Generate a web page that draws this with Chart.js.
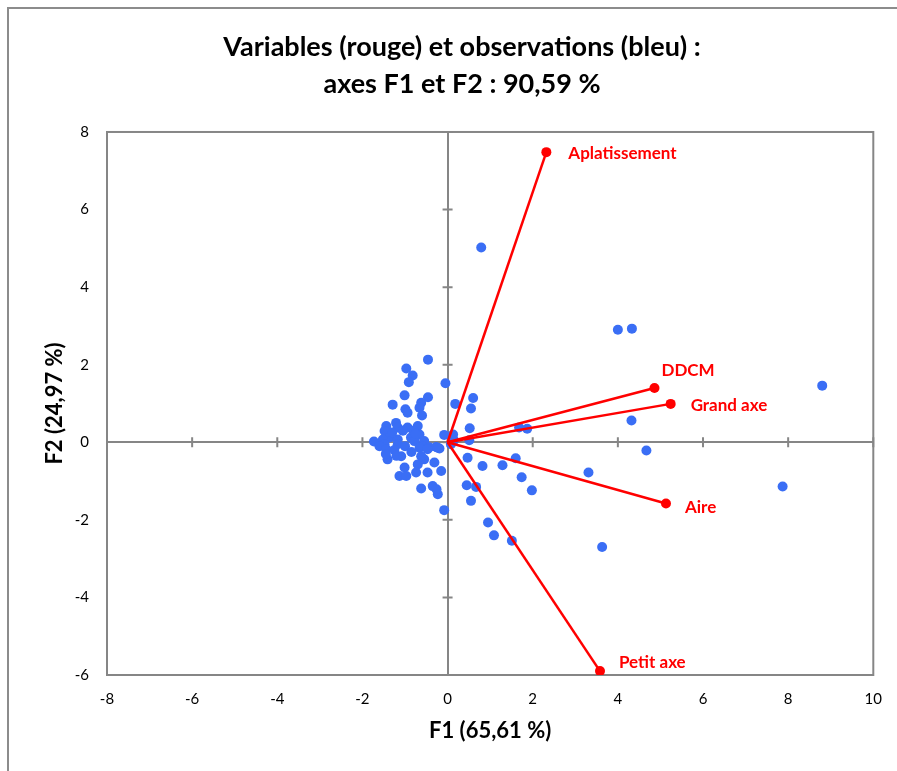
<!DOCTYPE html>
<html>
<head>
<meta charset="utf-8">
<script src="https://cdn.jsdelivr.net/npm/chart.js@4/dist/chart.umd.min.js"></script>
<style>
  html, body { margin: 0; padding: 0; background: #fff; }
</style>
</head>
<body>
<canvas id="graphique" width="897" height="771"></canvas>
<script>
// Observations (bleu) : coordonnées sur F1 et F2
const obsF1 = [-0.46, -0.97, -0.82, -0.91, -0.05, -1.01, -0.46, -1.29, -0.62, -0.99,
  -0.94, -0.66, -0.60, 0.18, -1.21, -1.44, -1.48, -1.17, -0.94, -0.70,
  -0.66, -0.86, -1.37, -1.17, -1.52, -1.73, -1.48, -1.17, -0.55, -0.59,
  -0.27, -0.08, -0.43, -1.60, -1.44, -1.41, -0.78, -0.66, -0.47, -0.23,
  -1.09, -1.01, -1.13, -0.97, -0.70, -0.74, -0.47, -0.31, -0.15, -0.55,
  -0.62, -0.62, -0.35, -0.23, -0.08, -0.26, -0.19, -1.30, -1.05, -0.80,
  -1.25, -1.00, -0.75, -1.45, -1.20, -0.85, 0.13, 0.08, 0.15, 0.60,
  0.55, 0.52, 0.51, 1.68, 1.87, 0.47, 0.82, 1.29, 1.60, 0.45,
  0.67, 0.55, 1.74, 1.98, 0.95, 1.09, 1.51, 0.79, 4.00, 4.33,
  8.80, 7.87, 4.32, 4.67, 3.31, 3.63];
const obsF2 = [2.13, 1.90, 1.72, 1.55, 1.52, 1.21, 1.16, 0.97, 1.02, 0.85,
  0.76, 0.89, 0.69, 0.99, 0.50, 0.42, 0.29, 0.38, 0.38, 0.42,
  0.20, 0.12, 0.12, 0.07, 0.07, 0.02, -0.05, -0.05, 0.03, -0.10,
  -0.12, 0.19, -0.13, -0.10, -0.18, -0.44, 0.03, -0.14, -0.18, -0.14,
  -0.36, -0.65, -0.87, -0.87, -0.57, -0.78, -0.78, -0.52, -0.74, -0.44,
  -0.36, -1.19, -1.13, -1.34, -1.75, -1.21, -0.16, 0.25, 0.30, 0.30,
  -0.20, -0.10, 0.22, -0.30, -0.35, -0.25, 0.20, -0.05, 0.05, 1.14,
  0.87, 0.36, 0.05, 0.38, 0.35, -0.40, -0.61, -0.59, -0.41, -1.11,
  -1.15, -1.51, -0.90, -1.24, -2.07, -2.40, -2.54, 5.02, 2.90, 2.93,
  1.46, -1.14, 0.56, -0.21, -0.78, -2.70];

// Variables (rouge)
const varNoms = ["Aplatissement", "DDCM", "Grand axe", "Aire", "Petit axe"];
const varF1 = [2.32, 4.86, 5.24, 5.13, 3.58];
const varF2 = [7.48, 1.40, 0.99, -1.58, -5.90];

// Graduations
const ticksF1 = [-8, -6, -4, -2, 0, 2, 4, 6, 8, 10];
const ticksF2 = [-6, -4, -2, 0, 2, 4, 6, 8];

const police = "Lato, 'Liberation Sans', sans-serif";
const gris = "#868686";
const rouge = "#ff0000";
const bleu = "#3a6ef5";

// Décalage des étiquettes des variables (px)
const decalages = [[22, 1], [7, -17], [20, 2], [19, 4], [19, -9]];

// Cadre extérieur, cadre du graphique, croix des graduations et étiquettes
const decor = {
  id: "decor",
  beforeDraw(chart) {
    const ctx = chart.ctx;
    ctx.save();
    ctx.fillStyle = "#fff";
    ctx.fillRect(0, 0, chart.width, chart.height);
    ctx.strokeStyle = "#8c8c8c";
    ctx.lineWidth = 2;
    ctx.beginPath();
    ctx.moveTo(8, chart.height);
    ctx.lineTo(8, 8);
    ctx.lineTo(chart.width, 8);
    ctx.stroke();
    ctx.restore();
  },
  beforeDatasetsDraw(chart) {
    const { ctx, chartArea: a, scales: { x, y } } = chart;
    const x0 = x.getPixelForValue(0);
    const y0 = y.getPixelForValue(0);
    ctx.save();
    ctx.strokeStyle = gris;
    ctx.lineWidth = 2;
    ctx.strokeRect(a.left, a.top, a.right - a.left, a.bottom - a.top);
    ctx.beginPath();
    ticksF1.forEach((v) => {
      const px = x.getPixelForValue(v);
      ctx.moveTo(px, y0 - 5);
      ctx.lineTo(px, y0 + 5);
    });
    ticksF2.forEach((v) => {
      const py = y.getPixelForValue(v);
      ctx.moveTo(x0 - 5, py);
      ctx.lineTo(x0 + 5, py);
    });
    ctx.stroke();
    ctx.restore();
  },
  afterDatasetsDraw(chart) {
    const { ctx, scales: { x, y } } = chart;
    ctx.save();
    ctx.fillStyle = rouge;
    ctx.font = "bold 17px " + police;
    ctx.textAlign = "left";
    ctx.textBaseline = "middle";
    varNoms.forEach((nom, i) => {
      const px = x.getPixelForValue(varF1[i]) + decalages[i][0];
      const py = y.getPixelForValue(varF2[i]) + decalages[i][1];
      ctx.fillText(nom, px, py);
    });
    ctx.restore();
  },
};

const observations = obsF1.map((v, i) => ({ x: v, y: obsF2[i] }));

const jeux = varNoms.map((nom, i) => ({
  label: nom,
  data: [{ x: 0, y: 0 }, { x: varF1[i], y: varF2[i] }],
  showLine: true,
  borderColor: rouge,
  borderWidth: 2.5,
  pointRadius: [0, 5],
  pointBackgroundColor: rouge,
  pointBorderWidth: 0,
  order: 0,
}));

jeux.push({
  label: "Observations",
  data: observations,
  pointRadius: 5,
  pointBackgroundColor: bleu,
  pointBorderWidth: 0,
  order: 1,
});

function grilleZero(ctx) {
  return ctx.tick && ctx.tick.value === 0 ? gris : "rgba(0,0,0,0)";
}

new Chart(document.getElementById("graphique"), {
  type: "scatter",
  data: { datasets: jeux },
  plugins: [decor],
  options: {
    responsive: false,
    animation: false,
    devicePixelRatio: 1,
    layout: { padding: { left: 50, right: 23, top: 0, bottom: 27 } },
    plugins: {
      legend: { display: false },
      tooltip: { enabled: false },
      title: {
        display: true,
        text: ["Variables (rouge) et observations (bleu) :", "axes F1 et F2 : 90,59 %"],
        color: "#000",
        font: { family: police, size: 27, weight: "bold", lineHeight: 1.37 },
        padding: { top: 29, bottom: 29 },
      },
    },
    scales: {
      x: {
        type: "linear",
        min: -8,
        max: 10,
        afterBuildTicks: (axe) => { axe.ticks = ticksF1.map((v) => ({ value: v })); },
        afterFit: (axe) => { axe.height = 69; },
        grid: { color: grilleZero, lineWidth: 2, drawTicks: false },
        border: { display: false },
        ticks: { color: "#000", padding: 15, font: { family: police, size: 15 } },
        title: {
          display: true,
          text: "F1 (65,61 %)",
          color: "#000",
          padding: { top: 0, bottom: 0 },
          font: { family: police, size: 22, weight: "bold" },
        },
      },
      y: {
        type: "linear",
        min: -6,
        max: 8,
        afterBuildTicks: (axe) => { axe.ticks = ticksF2.map((v) => ({ value: v })); },
        afterFit: (axe) => { axe.width = 57; },
        grid: { color: grilleZero, lineWidth: 2, drawTicks: false },
        border: { display: false },
        ticks: { color: "#000", padding: 18, font: { family: police, size: 15 } },
        title: {
          display: true,
          text: "F2 (24,97 %)",
          color: "#000",
          padding: { top: -8, bottom: 0 },
          font: { family: police, size: 22, weight: "bold" },
        },
      },
    },
  },
});
</script>
</body>
</html>
